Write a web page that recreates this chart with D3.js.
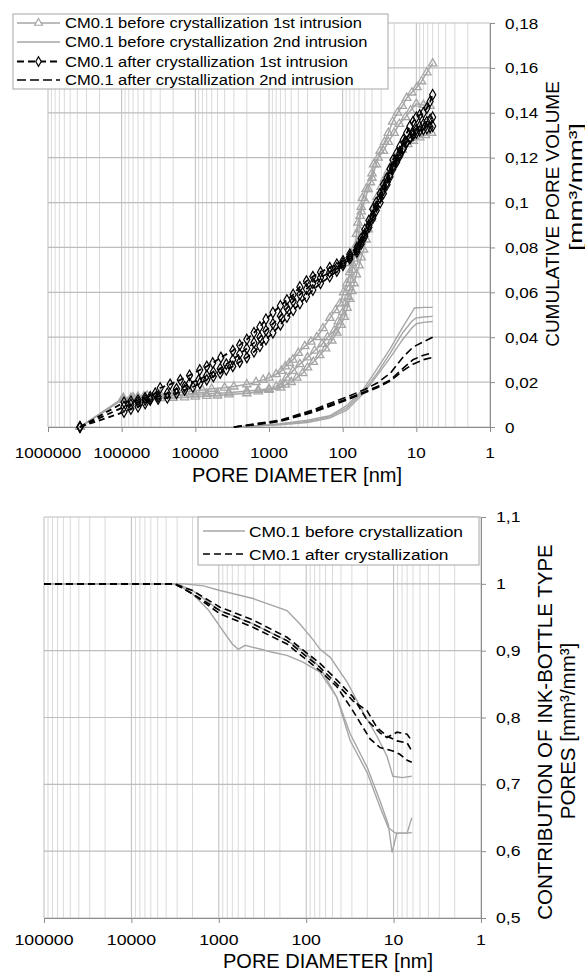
<!DOCTYPE html>
<html>
<head>
<meta charset="utf-8">
<script src="https://cdn.jsdelivr.net/npm/d3@7"></script>
<style>
  body { margin: 0; background: #fff; }
  svg { display: block; }
  text { font-family: "Liberation Sans", Arial, sans-serif; fill: #000; }
</style>
</head>
<body>
<svg id="chart" width="585" height="974"></svg>
<script>
// ---- data: [pore diameter nm, value] ----
const topXTicks = [1000000, 100000, 10000, 1000, 100, 10, 1];
const topYTicks = [0, 0.02, 0.04, 0.06, 0.08, 0.1, 0.12, 0.14, 0.16, 0.18];
const bottomXTicks = [100000, 10000, 1000, 100, 10, 1];
const bottomYTicks = [0.5, 0.6, 0.7, 0.8, 0.9, 1, 1.1];

const topLegend = [
  'CM0.1 before crystallization 1st intrusion',
  'CM0.1 before crystallization 2nd intrusion',
  'CM0.1 after crystallization 1st intrusion',
  'CM0.1 after crystallization 2nd intrusion'
];
const bottomLegend = ['CM0.1 before crystallization', 'CM0.1 after crystallization'];

const beforeFirstA = [[368000,0],[95000,0.0125],[75000,0.013],[60000,0.0135],[45000,0.014],[30000,0.0145],[22000,0.015],[15000,0.0155],[11000,0.016],[8000,0.0165],[6000,0.017],[4000,0.0175],[3000,0.018],[2000,0.019],[1500,0.020],[1200,0.021],[1000,0.022],[800,0.0235],[680,0.025],[600,0.027],[530,0.0285],[474,0.030],[400,0.033],[326,0.036],[270,0.038],[224,0.040],[185,0.044],[149,0.0486],[125,0.052],[109,0.055],[97,0.060],[88,0.064],[80,0.069],[75,0.073],[70,0.077],[68,0.080],[65,0.086],[62,0.091],[56,0.096],[50,0.101],[45,0.106],[40,0.111],[35,0.117],[31,0.123],[27,0.127],[24,0.131],[21,0.136],[18,0.140],[15.5,0.143],[13.5,0.1466],[11.5,0.149],[9.8,0.1514],[8.5,0.154],[7.2,0.158],[6,0.162]];
const beforeFirstB = [[368000,0],[95000,0.013],[70000,0.0132],[50000,0.0135],[35000,0.0137],[20000,0.014],[14000,0.0142],[10000,0.0145],[7000,0.0148],[5000,0.015],[3500,0.0153],[2000,0.016],[1400,0.0165],[1000,0.017],[800,0.018],[700,0.019],[580,0.022],[474,0.025],[380,0.028],[300,0.031],[240,0.034],[190,0.037],[160,0.040],[130,0.043],[115,0.047],[100,0.051],[92,0.055],[85,0.058],[80,0.062],[78,0.0655],[74,0.070],[70,0.075],[66,0.078],[62,0.082],[60,0.088],[58,0.094],[56,0.098],[54,0.102],[48,0.106],[42,0.109],[40,0.113],[38,0.117],[33,0.120],[28,0.123],[24,0.127],[20,0.131],[17,0.135],[14,0.138],[12,0.141],[10,0.144],[8,0.1435],[6.5,0.143]];
const beforeFirstC = [[368000,0],[100000,0.012],[70000,0.0122],[50000,0.0125],[30000,0.0128],[20000,0.013],[14000,0.0132],[10000,0.0135],[7000,0.0138],[5000,0.014],[3500,0.0145],[2000,0.015],[1400,0.0158],[1000,0.0165],[700,0.0175],[600,0.0188],[500,0.020],[420,0.022],[350,0.024],[300,0.0265],[250,0.029],[205,0.032],[170,0.035],[140,0.0385],[120,0.042],[105,0.0455],[95,0.049],[87,0.053],[80,0.057],[75,0.0605],[70,0.064],[65,0.068],[60,0.072],[56,0.0755],[52,0.079],[48,0.0835],[45,0.088],[41,0.093],[38,0.098],[34,0.1025],[30,0.107],[27,0.1105],[24,0.114],[21,0.1175],[18,0.121],[15.5,0.1235],[13,0.126],[11,0.1275],[9,0.129],[7.5,0.130],[6.2,0.131]];

const afterFirstA = [[368000,0],[93000,0.011],[75000,0.0115],[60000,0.012],[48000,0.013],[41000,0.0135],[35000,0.015],[30000,0.0174],[22000,0.019],[16000,0.021],[12000,0.023],[8700,0.0254],[7000,0.027],[5800,0.0285],[4500,0.031],[3100,0.034],[2500,0.0365],[2000,0.039],[1600,0.042],[1330,0.0446],[1100,0.048],[885,0.051],[700,0.054],[571,0.0566],[470,0.059],[381,0.0624],[310,0.065],[254,0.067],[200,0.069],[150,0.071],[120,0.0725],[99,0.074],[80,0.077],[64,0.080],[56,0.084],[50,0.088],[44,0.092],[39,0.097],[35,0.100],[31,0.104],[28,0.108],[25,0.111],[22.8,0.115],[20.8,0.119],[18.5,0.122],[16.7,0.125],[15,0.128],[13.5,0.131],[12.2,0.134],[11.1,0.136],[10,0.138],[9,0.139],[8,0.140],[7.2,0.142],[6.5,0.145],[6,0.148]];
const afterFirstB = [[368000,0],[93000,0.0067],[75000,0.008],[60000,0.009],[48000,0.0105],[41000,0.012],[32000,0.0125],[24000,0.013],[18000,0.015],[14000,0.0165],[10800,0.0178],[8700,0.0195],[7000,0.021],[5700,0.0225],[4600,0.024],[3800,0.0255],[3100,0.027],[2500,0.029],[2000,0.031],[1600,0.0335],[1330,0.036],[1100,0.039],[885,0.042],[700,0.0455],[571,0.049],[470,0.052],[381,0.055],[310,0.058],[254,0.061],[200,0.064],[150,0.067],[120,0.0695],[99,0.072],[80,0.075],[64,0.078],[56,0.0815],[50,0.085],[44,0.089],[39,0.093],[35,0.0965],[31,0.100],[28,0.104],[25,0.108],[22.8,0.1115],[20.8,0.115],[18.5,0.118],[16.7,0.121],[15,0.124],[13.5,0.127],[12.2,0.129],[11.1,0.131],[10,0.1325],[9,0.134],[8,0.135],[7.2,0.136],[6.5,0.137],[6,0.138]];
const afterFirstC = [[368000,0],[93000,0.009],[75000,0.010],[60000,0.011],[48000,0.012],[41000,0.0125],[32000,0.0135],[24000,0.015],[18000,0.017],[14000,0.018],[12000,0.0195],[9000,0.021],[7000,0.023],[5700,0.0245],[4600,0.026],[3800,0.028],[3100,0.030],[2500,0.0325],[2000,0.035],[1600,0.0375],[1330,0.040],[1100,0.043],[885,0.046],[700,0.0495],[571,0.053],[470,0.056],[381,0.059],[310,0.0615],[254,0.064],[200,0.0665],[150,0.069],[120,0.071],[99,0.073],[80,0.076],[64,0.079],[56,0.0825],[50,0.086],[44,0.090],[39,0.094],[35,0.098],[31,0.102],[28,0.1055],[25,0.109],[22.8,0.1125],[20.8,0.116],[18.5,0.119],[16.7,0.122],[15,0.1245],[13.5,0.127],[12.2,0.1285],[11.1,0.130],[10,0.131],[9,0.132],[8,0.1325],[7.2,0.133],[6.5,0.1335],[6,0.134]];

const beforeSecondA = [[2800,0],[1500,0.0005],[700,0.0015],[300,0.003],[150,0.005],[88,0.0095],[52,0.017],[34,0.026],[22.5,0.035],[15.3,0.0445],[11.6,0.0508],[10.6,0.053],[8,0.0533],[6,0.0533]];
const beforeSecondB = [[2800,0],[1500,0.0005],[700,0.0013],[300,0.0025],[150,0.0045],[88,0.0085],[52,0.016],[34,0.024],[22.5,0.033],[15.3,0.042],[11.6,0.047],[10.2,0.0485],[8,0.049],[6,0.0493]];
const beforeSecondC = [[2800,0],[1500,0.0004],[700,0.001],[300,0.002],[150,0.004],[88,0.0075],[52,0.015],[34,0.023],[22.5,0.031],[15.3,0.039],[11.6,0.044],[10,0.046],[8,0.0466],[6,0.047]];

const afterSecondA = [[3000,0],[1500,0.0015],[711,0.003],[254,0.0076],[88,0.0134],[52,0.0165],[34,0.0196],[22.5,0.024],[15.3,0.031],[11.1,0.0356],[6,0.040]];
const afterSecondB = [[3000,0],[1500,0.0012],[711,0.0027],[254,0.007],[88,0.0125],[52,0.0155],[34,0.018],[22.5,0.021],[15.3,0.026],[11.1,0.030],[8,0.032],[6,0.033]];
const afterSecondC = [[3000,0],[1500,0.001],[711,0.0025],[254,0.0065],[88,0.012],[52,0.015],[34,0.0175],[22.5,0.0205],[15.3,0.025],[11.1,0.028],[8,0.030],[6,0.031]];

const inkBeforeA = [[100000,1],[2500,1],[1500,0.997],[969,0.99],[406,0.978],[166,0.96],[118,0.94],[84,0.917],[69.5,0.902],[53,0.89],[34,0.853],[22.4,0.808],[15.5,0.772],[11.9,0.742],[10.2,0.712],[8,0.71],[6.2,0.712]];
const inkBeforeB = [[100000,1],[3000,1],[2000,0.985],[1300,0.96],[900,0.93],[700,0.91],[600,0.902],[500,0.908],[406,0.905],[250,0.898],[166,0.893],[109,0.883],[69.5,0.868],[44.5,0.83],[31.5,0.776],[20,0.725],[14.3,0.675],[11.5,0.64],[10.4,0.598],[9.2,0.627],[7,0.627],[6.2,0.628]];
const inkBeforeC = [[100000,1],[3000,1],[2000,0.99],[969,0.96],[406,0.94],[166,0.915],[109,0.9],[69.5,0.875],[44.5,0.83],[31.5,0.766],[20,0.717],[14.3,0.666],[11.5,0.635],[9.5,0.627],[7,0.627],[6.2,0.65]];

const inkAfterA = [[100000,1],[3200,1],[2000,0.99],[969,0.965],[406,0.946],[166,0.92],[69.5,0.881],[44.5,0.856],[29.2,0.831],[20.1,0.796],[14.3,0.777],[11.9,0.77],[9.15,0.778],[7,0.775],[6.2,0.765]];
const inkAfterB = [[100000,1],[3200,1],[2000,0.985],[969,0.96],[406,0.94],[166,0.915],[69.5,0.875],[44.5,0.85],[29.2,0.825],[20.1,0.81],[15.5,0.785],[11.9,0.772],[9.15,0.765],[7,0.762],[6.2,0.75]];
const inkAfterC = [[100000,1],[3200,1],[2000,0.985],[969,0.955],[406,0.935],[166,0.91],[69.5,0.87],[44.5,0.846],[29.2,0.81],[18.6,0.768],[14.3,0.755],[10.2,0.75],[8.5,0.745],[7,0.736],[6.2,0.733]];

// ---- drawing ----
const svg = d3.select('#chart');
const GRAY = '#a6a6a6';
const comma = v => String(+v.toFixed(2)).replace('.', ',');

function stretchText(g, x, y, str, size, anchor, sx) {
  return g.append('text')
    .attr('transform', `translate(${x},${y}) scale(${sx},1)`)
    .attr('text-anchor', anchor)
    .attr('dominant-baseline', 'central')
    .style('font-size', size + 'px')
    .text(str);
}

function grid(g, x, y, yTicks) {
  const [x0, x1] = x.range();
  const [y0, y1] = y.range();
  const decades = x.ticks().filter(v => Math.abs(Math.log10(v) - Math.round(Math.log10(v))) < 1e-9);
  x.ticks().forEach(v => {
    const major = decades.includes(v);
    g.append('line')
      .attr('x1', x(v)).attr('x2', x(v)).attr('y1', y0).attr('y2', y1)
      .attr('stroke', major ? '#bdbdbd' : '#dadada').attr('stroke-width', 1);
  });
  yTicks.forEach(v => {
    g.append('line')
      .attr('x1', x0).attr('x2', x1).attr('y1', y(v)).attr('y2', y(v))
      .attr('stroke', '#bdbdbd').attr('stroke-width', 1.2);
  });
  g.append('g').attr('transform', `translate(0,${y0})`)
    .call(d3.axisBottom(x).tickValues(decades).tickSize(5).tickFormat(''))
    .call(a => a.selectAll('path,line').attr('stroke', '#8c8c8c'));
  g.append('g').attr('transform', `translate(${x1},0)`)
    .call(d3.axisRight(y).tickValues(yTicks).tickSize(5).tickFormat(''))
    .call(a => a.selectAll('path,line').attr('stroke', '#8c8c8c'));
}

// ===== top chart =====
const xTop = d3.scaleLog().domain([1e6, 1]).range([48, 490]);
const yTop = d3.scaleLinear().domain([0, 0.18]).range([427, 23]);
const gTop = svg.append('g');
grid(gTop, xTop, yTop, topYTicks);

topXTicks.forEach(v => stretchText(gTop, xTop(v), 452, String(v), 15, 'middle', 1.14));
topYTicks.forEach(v => stretchText(gTop, 505, yTop(v), comma(v), 15, 'start', 1.14));

gTop.append('text').attr('x', 297).attr('y', 475).attr('text-anchor', 'middle')
  .attr('dominant-baseline', 'central').style('font-size', '20px').text('PORE DIAMETER [nm]');
gTop.append('text').attr('transform', 'translate(552,214) rotate(-90)').attr('text-anchor', 'middle')
  .attr('dominant-baseline', 'central').style('font-size', '19px').text('CUMULATIVE PORE VOLUME');
gTop.append('text').attr('transform', 'translate(575,187) rotate(-90)').attr('text-anchor', 'middle')
  .attr('dominant-baseline', 'central').style('font-size', '19px')
  .attr('textLength', 128).attr('lengthAdjust', 'spacingAndGlyphs').text('[mm³/mm³]');

const lineTop = d3.line().x(d => xTop(d[0])).y(d => yTop(d[1]));

[beforeSecondA, beforeSecondB, beforeSecondC].forEach(s => {
  gTop.append('path').datum(s).attr('d', lineTop).attr('fill', 'none')
    .attr('stroke', GRAY).attr('stroke-width', 1.4);
});
[afterSecondA, afterSecondB, afterSecondC].forEach(s => {
  gTop.append('path').datum(s).attr('d', lineTop).attr('fill', 'none')
    .attr('stroke', '#000').attr('stroke-width', 1.6).attr('stroke-dasharray', '8,4');
});
[beforeFirstA, beforeFirstB, beforeFirstC].forEach(s => {
  gTop.append('path').datum(s).attr('d', lineTop).attr('fill', 'none')
    .attr('stroke', GRAY).attr('stroke-width', 1.5);
  gTop.append('g').selectAll('path').data(s).join('path')
    .attr('d', d3.symbol(d3.symbolTriangle, 30))
    .attr('transform', d => `translate(${xTop(d[0])},${yTop(d[1])})`)
    .attr('fill', 'none').attr('stroke', GRAY).attr('stroke-width', 1.3);
});
[afterFirstA, afterFirstB, afterFirstC].forEach(s => {
  gTop.append('path').datum(s).attr('d', lineTop).attr('fill', 'none')
    .attr('stroke', '#000').attr('stroke-width', 1.8).attr('stroke-dasharray', '6,4');
  gTop.append('g').selectAll('path').data(s).join('path')
    .attr('d', d3.symbol(d3.symbolDiamond, 32))
    .attr('transform', d => `translate(${xTop(d[0])},${yTop(d[1])})`)
    .attr('fill', 'none').attr('stroke', '#000').attr('stroke-width', 1.2);
});

// top legend
const legTop = gTop.append('g');
legTop.append('rect').attr('x', 13).attr('y', 14).attr('width', 375).attr('height', 75)
  .attr('fill', '#fff').attr('stroke', '#a6a6a6');
const topRowY = [23, 42, 61.5, 80];
const topStyles = [
  { stroke: GRAY, width: 1.5, dash: null, marker: d3.symbolTriangle, mcol: GRAY },
  { stroke: GRAY, width: 1.4, dash: null, marker: null },
  { stroke: '#000', width: 2.2, dash: '7,4', marker: d3.symbolDiamond, mcol: '#000' },
  { stroke: '#000', width: 1.5, dash: '9,4', marker: null }
];
topLegend.forEach((t, i) => {
  const st = topStyles[i];
  const y = topRowY[i];
  const ln = legTop.append('line').attr('x1', 17).attr('x2', 60).attr('y1', y).attr('y2', y)
    .attr('stroke', st.stroke).attr('stroke-width', st.width);
  if (st.dash) ln.attr('stroke-dasharray', st.dash);
  if (st.marker) {
    legTop.append('path').attr('d', d3.symbol(st.marker, 26)).attr('transform', `translate(38.5,${y})`)
      .attr('fill', '#fff').attr('stroke', st.mcol).attr('stroke-width', 1.2);
  }
  stretchText(legTop, 65, y, t, 15, 'start', 1.1);
});

// ===== bottom chart =====
const xBot = d3.scaleLog().domain([1e5, 1]).range([44, 481]);
const yBot = d3.scaleLinear().domain([0.5, 1.1]).range([918, 517]);
const gBot = svg.append('g');
grid(gBot, xBot, yBot, bottomYTicks);

bottomXTicks.forEach(v => stretchText(gBot, xBot(v), 940, String(v), 15.5, 'middle', 1.14));
bottomYTicks.forEach(v => stretchText(gBot, 496, yBot(v), comma(v), 15.5, 'start', 1.14));

gBot.append('text').attr('x', 328).attr('y', 961).attr('text-anchor', 'middle')
  .attr('dominant-baseline', 'central').style('font-size', '20px').text('PORE DIAMETER [nm]');
gBot.append('text').attr('transform', 'translate(544,732) rotate(-90)').attr('text-anchor', 'middle')
  .attr('dominant-baseline', 'central').style('font-size', '20.5px').text('CONTRIBUTION OF INK-BOTTLE TYPE');
gBot.append('text').attr('transform', 'translate(567,731) rotate(-90)').attr('text-anchor', 'middle')
  .attr('dominant-baseline', 'central').style('font-size', '20.5px').text('PORES [mm³/mm³]');

const lineBot = d3.line().x(d => xBot(d[0])).y(d => yBot(d[1]));
[inkBeforeA, inkBeforeB, inkBeforeC].forEach(s => {
  gBot.append('path').datum(s).attr('d', lineBot).attr('fill', 'none')
    .attr('stroke', GRAY).attr('stroke-width', 1.4);
});
[inkAfterA, inkAfterB, inkAfterC].forEach(s => {
  gBot.append('path').datum(s).attr('d', lineBot).attr('fill', 'none')
    .attr('stroke', '#000').attr('stroke-width', 1.6).attr('stroke-dasharray', '7,4');
});

// bottom legend
const legBot = gBot.append('g');
legBot.append('rect').attr('x', 198).attr('y', 517).attr('width', 281).attr('height', 48)
  .attr('fill', '#fff').attr('stroke', '#a6a6a6');
const botRowY = [531, 554];
bottomLegend.forEach((t, i) => {
  const y = botRowY[i];
  const ln = legBot.append('line').attr('x1', 203).attr('x2', 245).attr('y1', y).attr('y2', y)
    .attr('stroke', i ? '#000' : GRAY).attr('stroke-width', i ? 1.6 : 1.4);
  if (i) ln.attr('stroke-dasharray', '7,4');
  stretchText(legBot, 249, y, t, 15.5, 'start', 1.12);
});
</script>
</body>
</html>
